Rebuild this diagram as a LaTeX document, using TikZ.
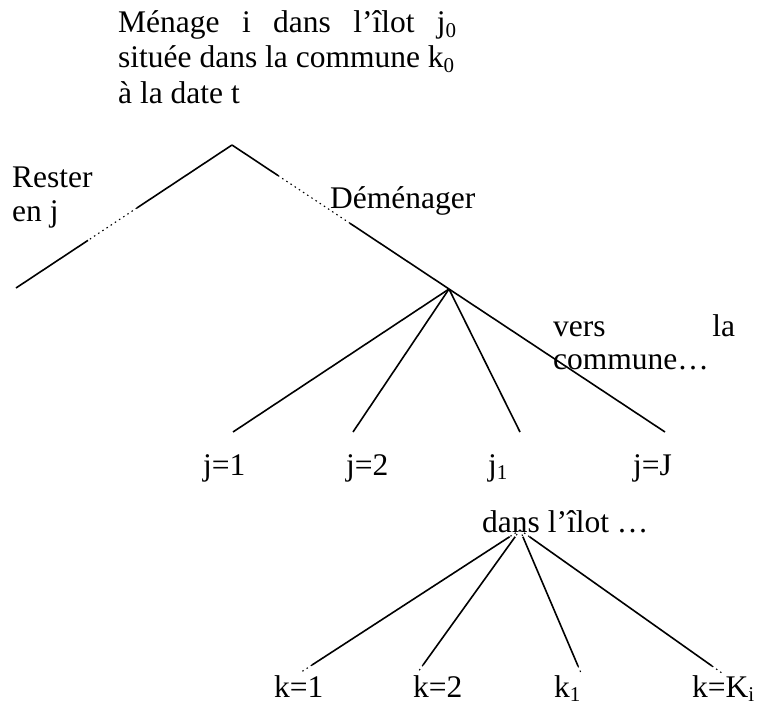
\documentclass[tikz,border=0pt]{standalone}
\usepackage{fontspec}
\setmainfont{Liberation Serif}
\usetikzlibrary{calc}
% lowered, smaller index digit/letter
\newcommand\lowidx[1]{\raisebox{-0.13em}{\fontsize{21}{21}\selectfont #1}}

\begin{document}
\begin{tikzpicture}[x=1pt,y=-1pt,
  lbl/.style={anchor=base west, inner sep=0pt, font=\fontsize{31.5}{35}\selectfont},
  branch/.style={line width=1.6pt},
  gap/.style={line width=1.1pt, dash pattern=on 1.5pt off 3.5pt}]
\useasboundingbox (0,0) rectangle (770,706);

% heading
\node[lbl] (t1) at (118,33) {\makebox[338pt][s]{Ménage i dans l’îlot j\lowidx{0}}};
\node[lbl] (t2) at (118,68) {située dans la commune k\lowidx{0}};
\node[lbl] (t3) at (118,103) {à la date t};

% first choice
\coordinate (root) at (232,145);
\coordinate (stay) at (16,288);
\coordinate (move) at (449,289);
\node[lbl] (rester) at (12,187) {Rester};
\node[lbl] (enj) at (12,221) {en j};
\node[lbl] (dem) at (330,208) {Déménager};

\draw[branch] (root) -- ($(root)!0.44!(stay)$);
\draw[gap] ($(root)!0.44!(stay)$) -- ($(root)!0.667!(stay)$);
\draw[branch] ($(root)!0.667!(stay)$) -- (stay);

\draw[branch] (root) -- ($(root)!0.212!(move)$);
\draw[gap] ($(root)!0.212!(move)$) -- ($(root)!0.544!(move)$);
\draw[branch] ($(root)!0.544!(move)$) -- (move);

% choice of the commune
\node[lbl] (vers) at (553,336) {\makebox[182pt][s]{vers la}};
\node[lbl] (commune) at (553,369) {commune…};
\coordinate (ja) at (233,432);
\coordinate (jb) at (353,432);
\coordinate (jc) at (520,432);
\coordinate (jd) at (665,432);
\foreach \e in {ja,jb,jc,jd} \draw[branch] (move) -- (\e);
\node[lbl] (lja) at (203,475) {j=1};
\node[lbl] (ljb) at (346,475) {j=2};
\node[lbl] (ljc) at (488,475) {j\lowidx{1}};
\node[lbl] (ljd) at (633,475) {j=J};

% choice of the block
\node[lbl] (ilottxt) at (482,532) {dans l’îlot …};
\coordinate (ilot) at (520,530);
\coordinate (ka) at (312,665);
\coordinate (kb) at (423,665);
\coordinate (kc) at (578,666);
\coordinate (kd) at (712,666);
\foreach \e in {ka,kb,kc,kd} {
  \draw[gap] (ilot) -- ($(ilot)!0.05!(\e)$);
  \draw[branch] ($(ilot)!0.05!(\e)$) -- (\e);
  \draw[gap] (\e) -- ($(ilot)!1.05!(\e)$);
}
\node[lbl] (lka) at (274,697) {k=1};
\node[lbl] (lkb) at (413,697) {k=2};
\node[lbl] (lkc) at (554,697) {k\lowidx{1}};
\node[lbl] (lkd) at (692,697) {k=K\lowidx{i}};
\end{tikzpicture}
\end{document}
